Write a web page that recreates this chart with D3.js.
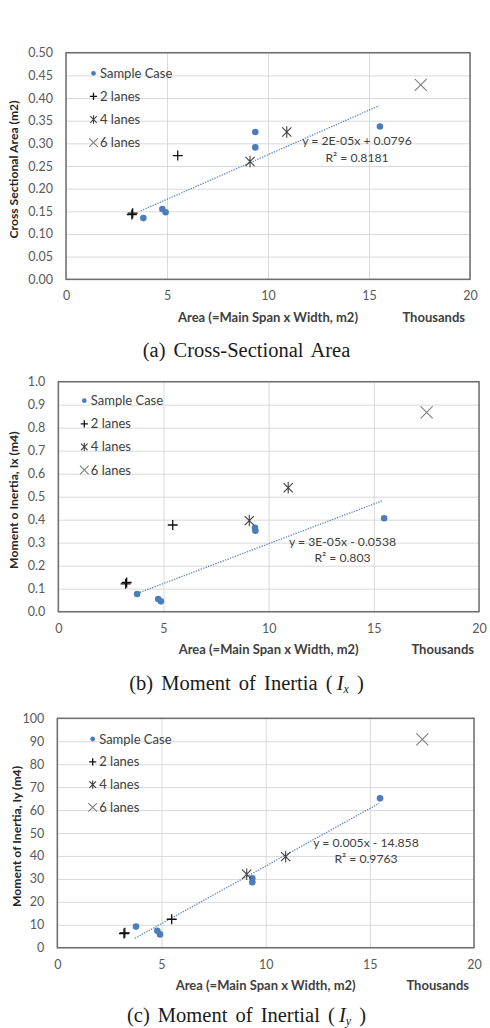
<!DOCTYPE html>
<html>
<head>
<meta charset="utf-8">
<script src="https://cdn.jsdelivr.net/npm/d3@7"></script>
<style>
body { margin: 0; background: #fff; }
svg { display: block; }
</style>
</head>
<body>
<svg width="490" height="1028"></svg>
<script>
/* ==================== DATA ==================== */

var xTicks = [0, 5, 10, 15, 20]; // Thousands of m2
var seriesNames = ["Sample Case", "2 lanes", "4 lanes", "6 lanes"];

// (a) Cross-Sectional Area
var areaTicks = [0, 0.05, 0.10, 0.15, 0.20, 0.25, 0.30, 0.35, 0.40, 0.45, 0.50];
var areaSampleX = [3.83, 4.77, 4.93, 9.37, 9.37, 15.54];
var areaSampleY = [0.135, 0.155, 0.148, 0.325, 0.291, 0.337];
var area2LanesX = [3.26, 3.30, 5.53];
var area2LanesY = [0.143, 0.146, 0.273];
var area4LanesX = [9.11, 10.93];
var area4LanesY = [0.260, 0.325];
var area6LanesX = [17.56];
var area6LanesY = [0.429];
var areaTrendX = [3.70, 15.50];
var areaTrendY = [0.151, 0.383];
var areaEquation = ["y = 2E-05x + 0.0796", "R\u00b2 = 0.8181"];

// (b) Moment of Inertia Ix
var ixTicks = [0, 0.1, 0.2, 0.3, 0.4, 0.5, 0.6, 0.7, 0.8, 0.9, 1.0];
var ixSampleX = [3.75, 4.75, 4.88, 9.35, 9.37, 15.49];
var ixSampleY = [0.077, 0.055, 0.045, 0.365, 0.352, 0.406];
var ix2LanesX = [3.20, 3.25, 5.44];
var ix2LanesY = [0.121, 0.127, 0.377];
var ix4LanesX = [9.08, 10.93];
var ix4LanesY = [0.396, 0.539];
var ix6LanesX = [17.51];
var ix6LanesY = [0.867];
var ixTrendX = [3.88, 15.42];
var ixTrendY = [0.084, 0.483];
var ixEquation = ["y = 3E-05x - 0.0538", "R\u00b2 = 0.803"];

// (c) Moment of Inertia Iy
var iyTicks = [0, 10, 20, 30, 40, 50, 60, 70, 80, 90, 100];
var iySampleX = [3.78, 4.80, 4.93, 9.36, 9.36, 15.49];
var iySampleY = [9.2, 7.4, 5.8, 30.3, 28.5, 65.1];
var iy2LanesX = [3.20, 3.24, 5.49];
var iy2LanesY = [6.2, 6.5, 12.4];
var iy4LanesX = [9.09, 10.96];
var iy4LanesY = [32.0, 39.7];
var iy6LanesX = [17.52];
var iy6LanesY = [90.8];
var iyTrendX = [3.73, 15.44];
var iyTrendY = [4.1, 62.9];
var iyEquation = ["y = 0.005x - 14.858", "R\u00b2 = 0.9763"];

/* ==================== SETUP ==================== */

var svg = d3.select("svg");
var labelFont = "Lato, 'Open Sans', sans-serif";

function zip(xs, ys) {
    return xs.map(function(x, i) { return { x: x, y: ys[i] }; });
}

// marker shapes, drawn around 0,0 (s = half size)
var markers = {
    "Sample Case": { color: "#4a7ebb" },
    "2 lanes": { color: "#111", width: 1.3, path: function(s) { return "M" + (-s) + ",0H" + s + "M0," + (-s) + "V" + s; } },
    "4 lanes": { color: "#404040", width: 1.1, path: function(s) { var d = s * 0.8; return "M" + (-d) + "," + (-d) + "L" + d + "," + d + "M" + (-d) + "," + d + "L" + d + "," + (-d) + "M0," + (-s) + "V" + s; } },
    "6 lanes": { color: "#7f7f7f", width: 1.1, path: function(s) { return "M" + (-s) + "," + (-s) + "L" + s + "," + s + "M" + (-s) + "," + s + "L" + s + "," + (-s); } }
};

function drawMarker(sel, name, size) {
    var m = markers[name];
    if (name === "Sample Case") {
        sel.append("circle").attr("r", size * 0.66).attr("fill", m.color);
    } else {
        var s = name === "2 lanes" ? size : (name === "4 lanes" ? size * 1.15 : size * 1.2);
        sel.append("path").attr("d", m.path(s))
            .attr("fill", "none").attr("stroke", m.color).attr("stroke-width", m.width);
    }
}

/* ==================== PANELS ==================== */

var panels = [
    {
        box: { left: 66, right: 470, top: 52.7, bottom: 279.3 },
        yTicks: areaTicks, yFormat: d3.format(".2f"),
        series: [zip(areaSampleX, areaSampleY), zip(area2LanesX, area2LanesY), zip(area4LanesX, area4LanesY), zip(area6LanesX, area6LanesY)],
        trend: zip(areaTrendX, areaTrendY), equation: areaEquation, eqPos: [357, 145],
        yTitle: "Cross Sectional Area (m2)", yTitleX: 13.5,
        legend: { dx: 27.5, dy: 20.6, step: 23.1 },
        caption: [{ t: "(a) Cross-Sectional Area" }], captionY: 357
    },
    {
        box: { left: 58.3, right: 479, top: 381.7, bottom: 611.7 },
        yTicks: ixTicks, yFormat: d3.format(".1f"),
        series: [zip(ixSampleX, ixSampleY), zip(ix2LanesX, ix2LanesY), zip(ix4LanesX, ix4LanesY), zip(ix6LanesX, ix6LanesY)],
        trend: zip(ixTrendX, ixTrendY), equation: ixEquation, eqPos: [342.5, 545.5],
        yTitle: "Moment o Inertia, Ix (m4)", yTitleX: 13.5,
        legend: { dx: 26, dy: 19, step: 23.1 },
        caption: [{ t: "(b) Moment of Inertia (\u2009" }, { t: "I", italic: true }, { t: "x", sub: true }, { t: " )", up: true }], captionY: 690
    },
    {
        box: { left: 57.3, right: 474, top: 718.3, bottom: 947.7 },
        yTicks: iyTicks, yFormat: d3.format("d"),
        series: [zip(iySampleX, iySampleY), zip(iy2LanesX, iy2LanesY), zip(iy4LanesX, iy4LanesY), zip(iy6LanesX, iy6LanesY)],
        trend: zip(iyTrendX, iyTrendY), equation: iyEquation, eqPos: [366, 846.5],
        yTitle: "Moment of Inertia, Iy (m4)", yTitleX: 16.7,
        legend: { dx: 35.4, dy: 20.7, step: 22.8 },
        caption: [{ t: "(c) Moment of Inertial (\u2009" }, { t: "I", italic: true }, { t: "y", sub: true }, { t: " )", up: true }], captionY: 1022
    }
];

panels.forEach(function(p) {

    var b = p.box,
        w = b.right - b.left,
        h = b.bottom - b.top;

    var x = d3.scaleLinear().domain([0, 20]).range([b.left, b.right]);
    var y = d3.scaleLinear().domain([0, d3.max(p.yTicks)]).range([b.bottom, b.top]);

    var g = svg.append("g");

    // gridlines
    g.append("g")
        .attr("transform", "translate(" + b.left + ",0)")
        .call(d3.axisLeft(y).tickValues(p.yTicks).tickSize(-w).tickFormat(""))
        .call(function(a) {
            a.select(".domain").remove();
            a.selectAll("line").attr("stroke", "#d9d9d9").attr("stroke-width", 1);
        });
    g.append("g")
        .attr("transform", "translate(0," + b.bottom + ")")
        .call(d3.axisBottom(x).tickValues(xTicks).tickSize(-h).tickFormat(""))
        .call(function(a) {
            a.select(".domain").remove();
            a.selectAll("line").attr("stroke", "#d9d9d9").attr("stroke-width", 1);
        });

    // plot border
    g.append("rect")
        .attr("x", b.left).attr("y", b.top)
        .attr("width", w).attr("height", h)
        .attr("fill", "none").attr("stroke", "#6f6f6f").attr("stroke-width", 1.5);

    // tick labels
    g.append("g")
        .attr("transform", "translate(" + b.left + ",0)")
        .call(d3.axisLeft(y).tickValues(p.yTicks).tickSize(0).tickPadding(13).tickFormat(p.yFormat))
        .call(function(a) {
            a.select(".domain").remove();
            a.selectAll("text").attr("fill", "#595959").style("font", "12.5px " + labelFont);
        });
    g.append("g")
        .attr("transform", "translate(0," + b.bottom + ")")
        .call(d3.axisBottom(x).tickValues(xTicks).tickSize(0).tickPadding(12))
        .call(function(a) {
            a.select(".domain").remove();
            a.selectAll("text").attr("fill", "#595959").style("font", "12.5px " + labelFont);
        });

    // axis titles
    g.append("text")
        .attr("x", (b.left + b.right) / 2).attr("y", b.bottom + 42.5)
        .attr("text-anchor", "middle")
        .attr("fill", "#404040")
        .style("font", "bold 13px " + labelFont)
        .text("Area (=Main Span x Width, m2)");
    g.append("text")
        .attr("x", b.right - 5).attr("y", b.bottom + 42.5)
        .attr("text-anchor", "end")
        .attr("fill", "#404040")
        .style("font", "bold 13px " + labelFont)
        .text("Thousands");
    g.append("text")
        .attr("transform", "translate(" + (p.yTitleX + 4.5) + "," + ((b.top + b.bottom) / 2 + 3.5) + ") rotate(-90)")
        .attr("text-anchor", "middle")
        .attr("fill", "#262626")
        .style("font", "bold 12.2px " + labelFont)
        .text(p.yTitle);

    // trendline
    var line = d3.line().x(function(d) { return x(d.x); }).y(function(d) { return y(d.y); });
    g.append("path")
        .datum(p.trend)
        .attr("d", line)
        .attr("fill", "none")
        .attr("stroke", "#5b82c5")
        .attr("stroke-width", 1.3)
        .attr("stroke-dasharray", "1.3,1.3");

    // points
    p.series.forEach(function(pts, i) {
        var name = seriesNames[i];
        g.append("g").selectAll("g")
            .data(pts)
            .enter().append("g")
            .attr("transform", function(d) { return "translate(" + x(d.x) + "," + y(d.y) + ")"; })
            .each(function() { drawMarker(d3.select(this), name, 5); });
    });

    // equation
    var eq = g.append("text")
        .attr("text-anchor", "middle")
        .attr("fill", "#404040")
        .style("font", "12.2px " + labelFont);
    p.equation.forEach(function(t, i) {
        eq.append("tspan").attr("x", p.eqPos[0]).attr("y", p.eqPos[1] + i * 16.5).text(t);
    });

    // legend
    var legend = g.append("g")
        .selectAll("g")
        .data(seriesNames)
        .enter().append("g")
        .attr("transform", function(d, i) {
            return "translate(" + (b.left + p.legend.dx) + "," + (b.top + p.legend.dy + i * p.legend.step) + ")";
        });
    legend.each(function(d) { drawMarker(d3.select(this), d, 3.6); });
    legend.append("text")
        .attr("x", 6.5)
        .attr("dy", "0.35em")
        .attr("fill", "#404040")
        .style("font", "13px " + labelFont)
        .text(function(d) { return d; });

    // caption
    var cap = svg.append("text")
        .attr("x", 246.5).attr("y", p.captionY)
        .attr("text-anchor", "middle")
        .attr("fill", "#1a1a1a")
        .attr("word-spacing", 3)
        .style("font", "20.5px 'Liberation Serif', 'DejaVu Serif', serif");
    p.caption.forEach(function(c) {
        var ts = cap.append("tspan").text(c.t);
        if (c.italic) ts.style("font-style", "italic");
        if (c.sub) ts.style("font-style", "italic").style("font-size", "12px").attr("dy", 3);
        if (c.up) ts.attr("dy", -3);
    });
});
</script>
</body>
</html>
